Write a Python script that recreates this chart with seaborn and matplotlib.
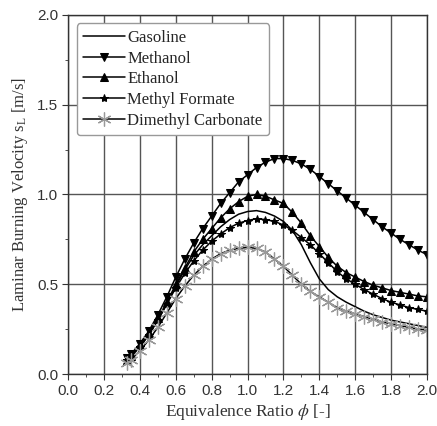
import matplotlib
matplotlib.use("Agg")
import matplotlib.pyplot as plt
import seaborn as sns
from matplotlib.ticker import MultipleLocator

# equivalence ratio grid
phi = [0.33, 0.35, 0.40, 0.45, 0.50, 0.55, 0.60, 0.65, 0.70, 0.75, 0.80, 0.85,
       0.90, 0.95, 1.00, 1.05, 1.10, 1.15, 1.20, 1.25, 1.30, 1.35, 1.40, 1.45,
       1.50, 1.55, 1.60, 1.65, 1.70, 1.75, 1.80, 1.85, 1.90, 1.95, 2.00]

gasoline = [0.08, 0.10, 0.15, 0.22, 0.30, 0.39, 0.49, 0.58, 0.66, 0.72, 0.77, 0.82,
            0.86, 0.89, 0.905, 0.91, 0.90, 0.88, 0.85, 0.80, 0.72, 0.62, 0.53, 0.47,
            0.43, 0.40, 0.375, 0.35, 0.33, 0.315, 0.30, 0.29, 0.28, 0.27, 0.26]
methanol = [0.09, 0.11, 0.17, 0.24, 0.33, 0.43, 0.54, 0.64, 0.73, 0.81, 0.88, 0.95,
            1.01, 1.07, 1.11, 1.15, 1.18, 1.20, 1.20, 1.19, 1.17, 1.14, 1.10, 1.06,
            1.02, 0.98, 0.94, 0.90, 0.86, 0.82, 0.785, 0.75, 0.72, 0.69, 0.665]
ethanol = [0.08, 0.10, 0.16, 0.23, 0.31, 0.40, 0.50, 0.59, 0.68, 0.75, 0.81, 0.87,
           0.92, 0.96, 0.99, 1.00, 0.99, 0.97, 0.95, 0.90, 0.84, 0.77, 0.71, 0.65,
           0.60, 0.565, 0.54, 0.515, 0.495, 0.48, 0.465, 0.455, 0.445, 0.435, 0.43]
methyl_formate = [0.08, 0.10, 0.15, 0.22, 0.30, 0.39, 0.48, 0.56, 0.63, 0.69, 0.74, 0.78,
                  0.815, 0.84, 0.855, 0.865, 0.86, 0.85, 0.83, 0.80, 0.76, 0.72, 0.67, 0.62,
                  0.57, 0.53, 0.50, 0.47, 0.445, 0.42, 0.40, 0.385, 0.37, 0.36, 0.35]
dmc = [0.06, 0.08, 0.13, 0.19, 0.26, 0.34, 0.42, 0.49, 0.55, 0.60, 0.64, 0.67,
       0.69, 0.70, 0.705, 0.70, 0.68, 0.64, 0.60, 0.55, 0.50, 0.46, 0.43, 0.40,
       0.37, 0.35, 0.335, 0.32, 0.305, 0.29, 0.28, 0.27, 0.26, 0.25, 0.245]

sns.set_style("white")
plt.rcParams["font.family"] = ["Liberation Sans", "DejaVu Sans"]
plt.rcParams["mathtext.fontset"] = "stix"

fig = plt.figure(figsize=(4.37, 4.26), dpi=100)
ax = fig.add_axes([0.156, 0.122, 0.821, 0.843])

sns.lineplot(x=phi, y=gasoline, color="black", lw=1.1, label="Gasoline", ax=ax)
sns.lineplot(x=phi, y=methanol, color="black", lw=1.1, marker="v", markersize=6,
             markeredgecolor="black", label="Methanol", ax=ax)
sns.lineplot(x=phi, y=ethanol, color="black", lw=1.1, marker="^", markersize=6,
             markeredgecolor="black", label="Ethanol", ax=ax)
sns.lineplot(x=phi, y=methyl_formate, color="black", lw=1.1, marker="*", markersize=6,
             markeredgecolor="black", label="Methyl Formate", ax=ax)
sns.lineplot(x=phi, y=dmc, color="black", lw=1.1, marker=(6, 2, 0), markersize=10,
             markeredgecolor="#999999", markeredgewidth=0.9,
             label="Dimethyl Carbonate", ax=ax)

ax.set_xlim(0, 2.0)
ax.set_ylim(0, 2.0)
ax.xaxis.set_major_locator(MultipleLocator(0.2))
ax.xaxis.set_minor_locator(MultipleLocator(0.1))
ax.yaxis.set_major_locator(MultipleLocator(0.5))
ax.yaxis.set_minor_locator(MultipleLocator(0.25))
ax.xaxis.set_major_formatter(plt.FormatStrFormatter("%.1f"))
ax.yaxis.set_major_formatter(plt.FormatStrFormatter("%.1f"))
ax.tick_params(which="both", direction="out", bottom=True, left=True, labelsize=11,
               colors="#333333")
ax.tick_params(which="major", length=4, pad=3)
ax.tick_params(which="minor", length=2.5)
ax.grid(True, which="major", color="#555555", lw=1)
for s in ax.spines.values():
    s.set_color("#333333")
    s.set_linewidth(1)

ax.set_xlabel(r"Equivalence Ratio $\phi$ [-]", family="Liberation Serif", fontsize=12.5,
              color="#333333", labelpad=3)
ax.set_ylabel(r"Laminar Burning Velocity s$_\mathregular{L}$ [m/s]",
              family="Liberation Serif", fontsize=12, color="#333333", labelpad=5)

leg = ax.legend(loc="upper left", prop={"family": "Liberation Serif", "size": 12},
                handlelength=2.5, handletextpad=0.15, labelspacing=0.28,
                borderpad=0.4, borderaxespad=0.5, fancybox=True, framealpha=1,
                edgecolor="#999999")

fig.savefig("out.png", dpi=100)
